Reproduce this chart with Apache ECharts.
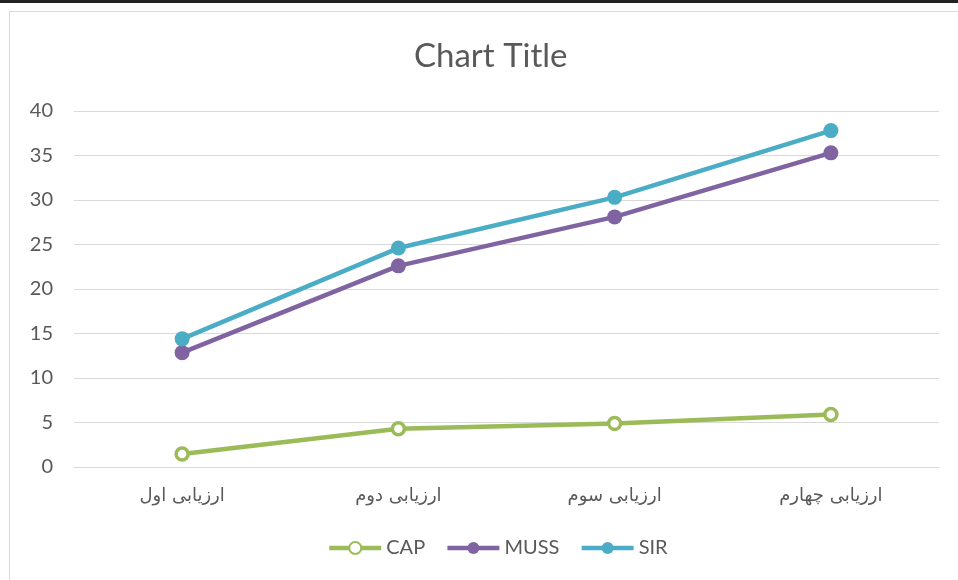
<!DOCTYPE html>
<html>
<head>
<meta charset="utf-8">
<script src="https://cdn.jsdelivr.net/npm/echarts@6/dist/echarts.min.js"></script>
<style>
  html, body { margin: 0; padding: 0; background: #fff; }
  #chart { width: 958px; height: 580px; }
</style>
</head>
<body>
<div id="chart"></div>
<script>
var categories = ['ارزیابی اول', 'ارزیابی دوم', 'ارزیابی سوم', 'ارزیابی چهارم'];
var capValues = [1.45, 4.3, 4.9, 5.9];
var mussValues = [12.85, 22.6, 28.1, 35.3];
var sirValues = [14.4, 24.6, 30.3, 37.8];
var seriesNames = ['CAP', 'MUSS', 'SIR'];

var myChart = echarts.init(document.getElementById('chart'));

function lineSeries(name, data, color, hollow){
    return {
        name: name,
        type: 'line',
        data: data,
        symbol: 'circle',
        symbolSize: hollow ? 12 : 15,
        lineStyle: { color: color, width: 4.5 },
        itemStyle: {
            color: hollow ? '#fff' : color,
            borderColor: color,
            borderWidth: hollow ? 3.5 : 0
        },
        emphasis: { disabled: true }
    };
}

var option = {
    animation: false,
    title: {
        text: 'Chart Title',
        left: 409,
        top: 35,
        textStyle: { fontFamily: 'Lato', fontSize: 33, fontWeight: 'normal', color: '#595959' }
    },
    graphic: [
        { type: 'rect', shape: { x: 0, y: 0, width: 958, height: 3 }, style: { fill: '#222' } },
        { type: 'rect', shape: { x: 9.5, y: 11.5, width: 960, height: 600 }, style: { fill: 'none', stroke: '#d9d9d9', lineWidth: 1 } }
    ],
    legend: {
        data: seriesNames,
        bottom: 17,
        left: 322,
        itemWidth: 52,
        itemHeight: 15,
        itemGap: 20,
        textStyle: { fontFamily: 'Lato', fontSize: 20, color: '#595959' },
        lineStyle: { width: 4.5 }
    },
    grid: { left: 74, right: 19, top: 111, bottom: 113 },
    xAxis: {
        type: 'category',
        data: categories,
        axisLine: { lineStyle: { color: '#d9d9d9' } },
        axisTick: { show: false },
        axisLabel: { fontFamily: 'DejaVu Sans', fontSize: 18, color: '#595959', margin: 20 }
    },
    yAxis: {
        type: 'value',
        min: 0,
        max: 40,
        interval: 5,
        axisLine: { show: false },
        axisTick: { show: false },
        splitLine: { lineStyle: { color: '#d9d9d9', width: 1 } },
        axisLabel: { fontFamily: 'Lato', fontSize: 20, color: '#595959', margin: 21 }
    },
    series: [
        lineSeries('CAP', capValues, '#9bbb59', true),
        lineSeries('MUSS', mussValues, '#8064a2', false),
        lineSeries('SIR', sirValues, '#4bacc6', false)
    ]
};

myChart.setOption(option);
</script>
</body>
</html>
